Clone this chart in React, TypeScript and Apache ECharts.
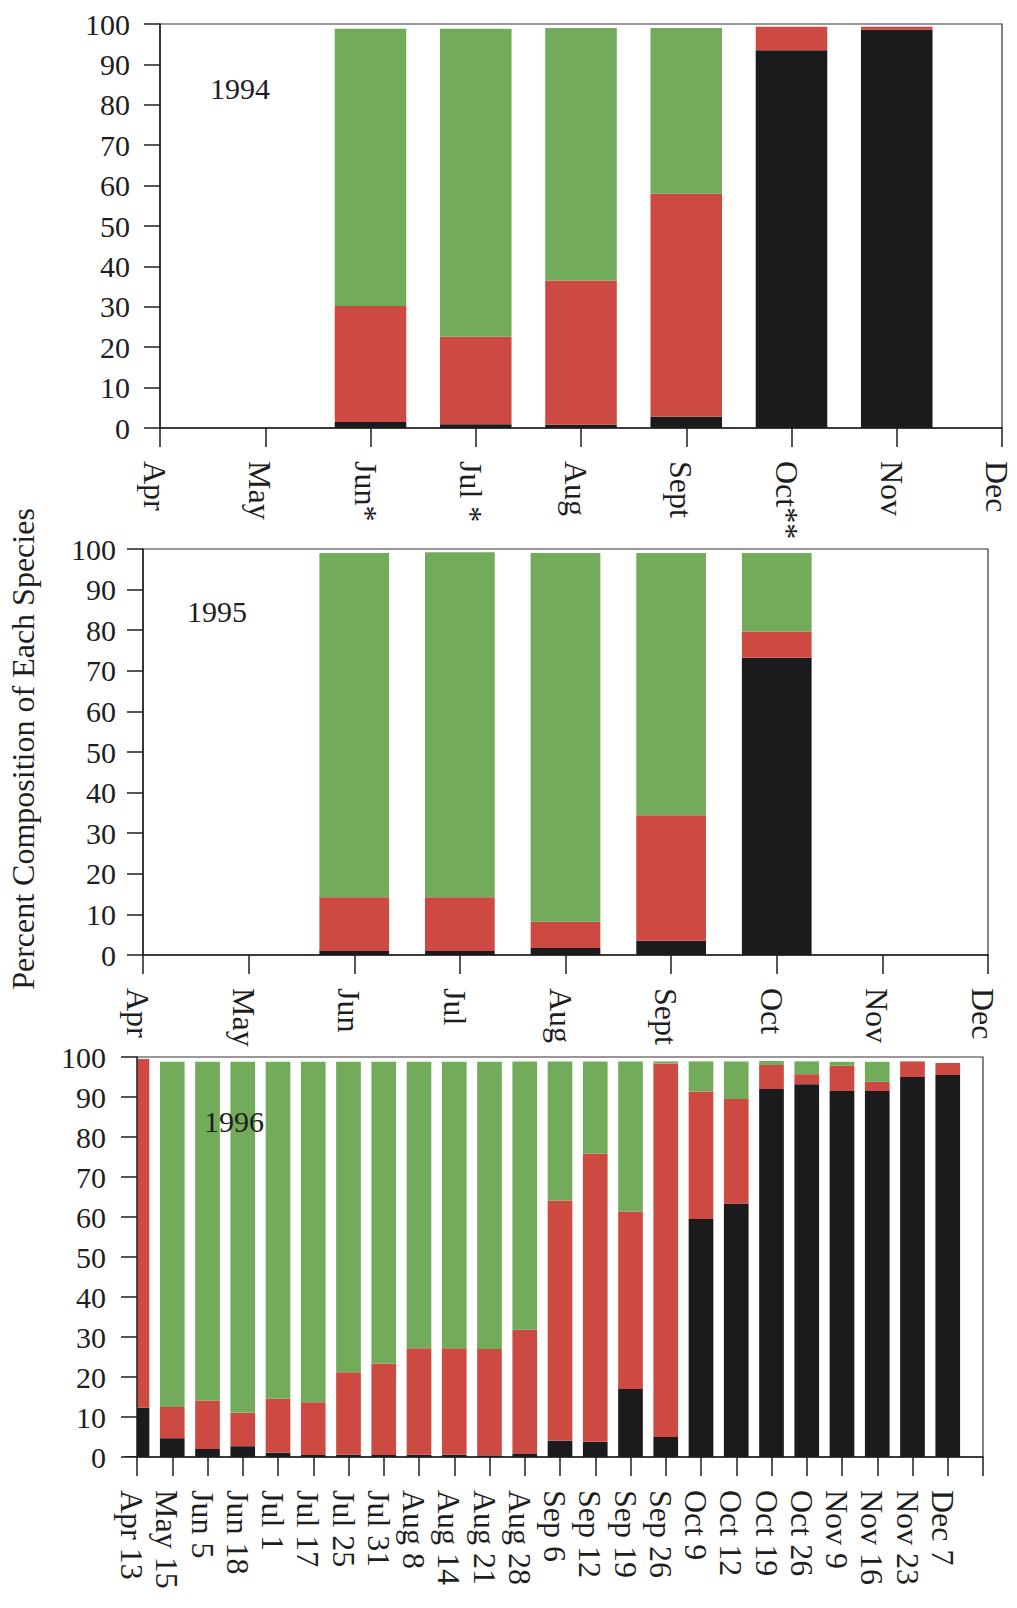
import { useEffect, useRef } from "react";
import * as echarts from "echarts";

// 1994 monthly samples (percent of each species, stacked bottom to top)
const months1994 = ["Apr", "May", "Jun*", "Jul *", "Aug", "Sept", "Oct**", "Nov", "Dec"];
const black1994 = [null, null, 1.5, 0.9, 0.8, 2.8, 93.5, 98.6, null];
const red1994 = [null, null, 28.7, 21.7, 35.7, 55.2, 5.8, 0.7, null];
const green1994 = [null, null, 68.6, 76.2, 62.5, 41.0, 0, 0, null];

// 1995 monthly samples
const months1995 = ["Apr", "May", "Jun", "Jul", "Aug", "Sept", "Oct", "Nov", "Dec"];
const black1995 = [null, null, 1.0, 1.0, 1.7, 3.5, 73.2, null, null];
const red1995 = [null, null, 13.2, 13.2, 6.5, 30.9, 6.5, null, null];
const green1995 = [null, null, 84.8, 85.0, 90.8, 64.6, 19.3, null, null];

// 1996 weekly samples (last slot is the closing tick, no sample)
const dates1996 = [
  "Apr 13", "May 15", "Jun 5", "Jun 18", "Jul 1", "Jul 17", "Jul 25", "Jul 31",
  "Aug 8", "Aug 14", "Aug 21", "Aug 28", "Sep 6", "Sep 12", "Sep 19", "Sep 26",
  "Oct 9", "Oct 12", "Oct 19", "Oct 26", "Nov 9", "Nov 16", "Nov 23", "Dec 7", "",
];
const black1996 = [12.3, 4.7, 2.0, 2.7, 1.1, 0.5, 0.6, 0.5, 0.6, 0.6, 0.4, 0.9, 4.1, 3.8, 17.0, 5.0, 59.5, 63.4, 92.0, 93.2, 91.5, 91.5, 95.0, 95.5, null];
const red1996 = [87.2, 7.8, 12.1, 8.4, 13.5, 13.2, 20.6, 22.9, 26.6, 26.6, 26.6, 30.9, 60.0, 72.1, 44.4, 93.4, 31.9, 26.1, 6.0, 2.5, 6.3, 2.3, 3.9, 3.0, null];
const green1996 = [0, 86.3, 84.7, 87.7, 84.2, 85.1, 77.6, 75.4, 71.6, 71.6, 71.8, 67.1, 34.8, 23.0, 37.5, 0.5, 7.5, 9.4, 1.0, 3.2, 1.0, 5.0, 0, 0, null];

const yTicks = { min: 0, max: 100, interval: 10 };

const SERIF = "'Liberation Serif', 'Times New Roman', serif";
const INK = "#1e1e1e";
const COLORS = { black: "#1b1a1d", red: "#cc4a42", green: "#72ab5a" };

const panels = [
  { cats: months1994, black: black1994, red: red1994, green: green1994, grid: { left: 160, top: 24, width: 842, height: 404 }, yMargin: 30, barWidth: "68%" },
  { cats: months1995, black: black1995, red: red1995, green: green1995, grid: { left: 143, top: 549, width: 845, height: 406 }, yMargin: 27, barWidth: "66%" },
  { cats: dates1996, black: black1996, red: red1996, green: green1996, grid: { left: 137, top: 1057, width: 846, height: 400 }, yMargin: 31, barWidth: "70%" },
];

export default function App() {
  const ref = useRef<HTMLDivElement>(null);

  useEffect(() => {
    document.body.style.margin = "0";
    if (!ref.current) return;
    const chart = echarts.init(ref.current, null, { renderer: "svg" });

    const grids = panels.map((p) => ({
      ...p.grid,
      show: true,
      borderColor: "#333",
      borderWidth: 1.2,
      backgroundColor: "transparent",
      containLabel: false,
    }));

    const xAxes = panels.map((p, i) => ({
      type: "category",
      gridIndex: i,
      z: 10,
      data: p.cats,
      boundaryGap: false,
      axisLine: { lineStyle: { color: INK, width: 1.5 } },
      axisTick: { show: true, interval: 0, length: 19, lineStyle: { color: INK, width: 1.5 } },
      axisLabel: {
        interval: 0,
        rotate: -90,
        margin: 33,
        // top-anchored short line box sets the rotated labels a little left of their ticks
        verticalAlign: "top",
        lineHeight: 10,
        fontSize: 32,
        fontFamily: SERIF,
        color: INK,
      },
      splitLine: { show: false },
    }));

    const yAxes = panels.map((p, i) => ({
      type: "value",
      gridIndex: i,
      z: 10,
      ...yTicks,
      axisLine: { show: true, lineStyle: { color: INK, width: 1.5 } },
      axisTick: { show: true, length: 16, lineStyle: { color: INK, width: 1.5 } },
      axisLabel: { margin: p.yMargin, fontSize: 30, fontFamily: SERIF, color: INK },
      splitLine: { show: false },
    }));

    const series: any[] = [];
    panels.forEach((p, i) => {
      (["black", "red", "green"] as const).forEach((key) => {
        series.push({
          type: "bar",
          name: key,
          xAxisIndex: i,
          yAxisIndex: i,
          stack: "panel" + i,
          barWidth: p.barWidth,
          data: p[key],
          itemStyle: { color: COLORS[key] },
        });
      });
    });

    const yearLabel = (text: string, x: number, y: number) => ({
      type: "text",
      x,
      y,
      z: 100,
      style: {
        text,
        fontSize: 30,
        fontFamily: SERIF,
        fill: INK,
        align: "center",
        verticalAlign: "middle",
      },
    });

    // The first 1996 bar sits on the y-axis; mask the half that falls left of it.
    const g3 = panels[2].grid;
    const edgeMask = {
      type: "rect",
      z: 3,
      shape: { x: g3.left - 30, y: g3.top - 4, width: 30, height: g3.height + 3 },
      style: { fill: "#ffffff" },
    };

    chart.setOption({
      animation: false,
      backgroundColor: "#ffffff",
      grid: grids,
      xAxis: xAxes,
      yAxis: yAxes,
      series,
      graphic: [
        edgeMask,
        {
          type: "text",
          x: 23,
          y: 749,
          rotation: Math.PI / 2,
          z: 100,
          style: {
            text: "Percent Composition of Each Species",
            fontSize: 32,
            fontFamily: SERIF,
            fill: INK,
            align: "center",
            verticalAlign: "middle",
          },
        },
        yearLabel("1994", 240, 88),
        yearLabel("1995", 217, 611),
        yearLabel("1996", 234, 1121),
      ],
    });

    return () => chart.dispose();
  }, []);

  return <div ref={ref} style={{ width: 1017, height: 1608 }} />;
}
